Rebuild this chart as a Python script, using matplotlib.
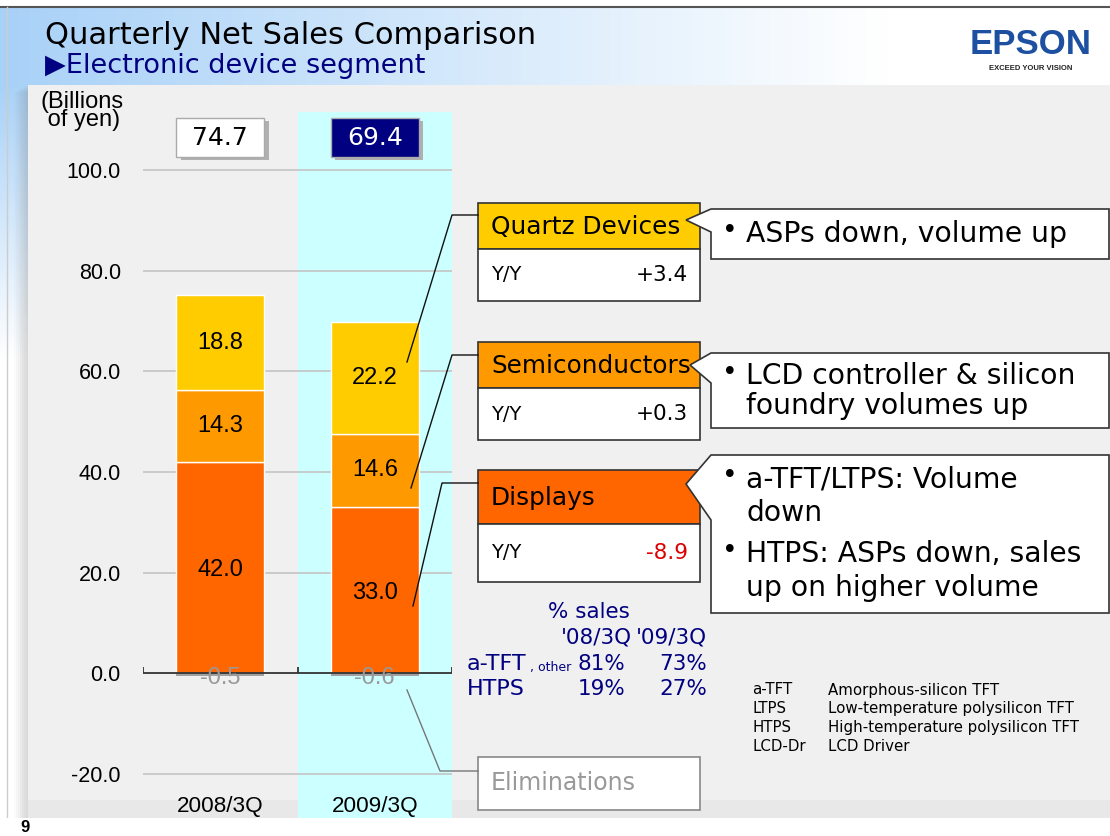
import numpy as np
import matplotlib
matplotlib.use("Agg")
from matplotlib import pyplot as plt
from matplotlib.patches import Rectangle, Polygon

# Data
quarters = ["2008/3Q", "2009/3Q"]
displays = [42.0, 33.0]
semiconductors = [14.3, 14.6]
quartz = [18.8, 22.2]
eliminations = [-0.5, -0.6]
totals = [74.7, 69.4]
yoy_quartz = "+3.4"
yoy_semis = "+0.3"
yoy_displays = "-8.9"
share_rows = ["a-TFT", "HTPS"]
share_0803 = ["81%", "19%"]
share_0903 = ["73%", "27%"]
abbrev = ["a-TFT", "LTPS", "HTPS", "LCD-Dr"]
abbrev_full = ["Amorphous-silicon TFT", "Low-temperature polysilicon TFT",
               "High-temperature polysilicon TFT", "LCD Driver"]

C_DISP = "#ff6600"
C_SEMI = "#ff9900"
C_QUARTZ = "#ffcc00"
NAVY = "#000080"
ARIAL = "Liberation Sans"
GOTH = "DejaVu Sans"

W, H = 1110, 836
fig = plt.figure(figsize=(W / 100, H / 100), dpi=100)

# Background layer in pixel coordinates
bg = fig.add_axes([0, 0, 1, 1], zorder=0)
bg.set_xlim(0, W)
bg.set_ylim(H, 0)
bg.axis("off")

gx, gy = np.meshgrid(np.linspace(0, 1, 300), np.linspace(0, 1, 200))
t = np.clip(gx * 1.25 + np.clip(gy - 0.1, 0, None) * 3.0, 0, 1)
blue = np.array([0.66, 0.82, 0.97])
img = blue[None, None, :] * (1 - t[..., None]) + np.ones(3)[None, None, :] * t[..., None]
bg.imshow(img, extent=[0, W, H, 0], aspect="auto", zorder=0)
bg.add_patch(Rectangle((0, 0), W, 7, fc="white", ec="none", zorder=1))
bg.plot([0, W], [7, 7], color="#555555", lw=1.5, zorder=2)
bg.plot([7, 7], [7, H], color="#cccccc", lw=1, zorder=2)
# content panel with soft left shadow
for i, a in enumerate([0.05, 0.05, 0.05, 0.05, 0.05, 0.04, 0.04, 0.03]):
    bg.add_patch(Rectangle((28 - i * 2, 85 + i), 16, 733, fc="#808080", alpha=a, ec="none", zorder=2))
bg.add_patch(Rectangle((28, 85), W - 28, 733, fc="#f0f0f0", ec="none", zorder=3))
bg.add_patch(Rectangle((28, 800), W - 28, 18, fc="#e8e8e8", ec="none", zorder=3))
bg.add_patch(Rectangle((0, 818), W, 18, fc="white", ec="none", zorder=3))

bg.text(45, 36, "Quarterly Net Sales Comparison", fontsize=22, family=GOTH,
        va="center", ha="left", zorder=4)
bg.text(45, 66, "\u25b6Electronic device segment", fontsize=19.5, family=GOTH,
        color=NAVY, va="center", ha="left", zorder=4)
bg.text(1031, 45, "EPSON", fontsize=25, family=ARIAL, weight="bold",
        color="#1e50a2", ha="center", va="center", zorder=4)
bg.text(1031, 68, "EXCEED YOUR VISION", fontsize=5.5, family=ARIAL, weight="bold",
        color="#222222", ha="center", va="center", zorder=4)
bg.text(20, 827, "9", fontsize=12, family=ARIAL, weight="bold", va="center", zorder=4)
bg.text(41, 111, "(Billions\n of yen)", fontsize=17, family=ARIAL, va="center",
        ha="left", linespacing=0.8, zorder=4)

# Chart axes: pixel x 143..452, y 112..818
ax = fig.add_axes([143 / W, (H - 818) / H, 309 / W, 706 / H], zorder=1)
ax.patch.set_alpha(0)
px_per = 604 / 120.0
y0 = 673.3
ax.set_ylim((y0 - 818) / px_per, (y0 - 112) / px_per)
ax.set_xlim(-0.5, 1.5)
for s in ax.spines.values():
    s.set_visible(False)

ax.axvspan(0.5, 1.5, color="#ccffff", zorder=0, lw=0)
ticks = [-20, 0, 20, 40, 60, 80, 100]
ax.hlines([v for v in ticks if v != 0], -0.5, 1.5, color="#c4c4c4", lw=1.2, zorder=1)
ax.set_yticks(ticks)
ax.set_yticklabels([f"{v:.1f}" for v in ticks], fontsize=15.5, family=ARIAL)
ax.tick_params(axis="y", length=0, pad=16)
ax.set_xticks([])

x = np.arange(len(quarters))
bw = 0.57
bottom2 = np.array(displays) + np.array(semiconductors)
ax.bar(x, displays, bw, color=C_DISP, edgecolor="white", lw=1, zorder=2)
ax.bar(x, semiconductors, bw, bottom=displays, color=C_SEMI, edgecolor="white", lw=1, zorder=2)
ax.bar(x, quartz, bw, bottom=bottom2, color=C_QUARTZ, edgecolor="white", lw=1, zorder=2)
ax.bar(x, eliminations, bw, color="#a0a0a0", lw=0, zorder=2)

ax.axhline(0, color="#333333", lw=1.3, zorder=3)
ax.vlines([-0.5, 0.5, 1.5], 0, 1.3, color="#333333", lw=1.3, zorder=3)

LBL = 17
for i in range(len(quarters)):
    ax.text(x[i], displays[i] / 2 - 0.5, f"{displays[i]:.1f}", ha="center", va="center",
            fontsize=LBL, family=ARIAL, zorder=4)
    ax.text(x[i], displays[i] + semiconductors[i] / 2, f"{semiconductors[i]:.1f}", ha="center",
            va="center", fontsize=LBL, family=ARIAL, zorder=4)
    ax.text(x[i], bottom2[i] + quartz[i] / 2, f"{quartz[i]:.1f}", ha="center", va="center",
            fontsize=LBL, family=ARIAL, zorder=4)
    ax.text(x[i], -1.0, f"{eliminations[i]:.1f}", ha="center", va="center",
            fontsize=LBL, family=ARIAL, color="#999999", zorder=4)
    ax.text(x[i], -26.4, quarters[i], ha="center", va="center", fontsize=16.2,
            family=ARIAL, zorder=4)
    # total boxes
    fc = "white" if i == 0 else NAVY
    tc = "black" if i == 0 else "white"
    ax.add_patch(Rectangle((x[i] - bw / 2 + 0.03, 102.0), bw, 7.7, fc="#b0b0b0", ec="none", zorder=3))
    ax.add_patch(Rectangle((x[i] - bw / 2, 102.6), bw, 7.7, fc=fc, ec="#aaaaaa", lw=1, zorder=4))
    ax.text(x[i], 106.4, f"{totals[i]:.1f}", ha="center", va="center", fontsize=18,
            family=GOTH, color=tc, zorder=5)

# Foreground layer for callouts
fg = fig.add_axes([0, 0, 1, 1], zorder=3)
fg.set_xlim(0, W)
fg.set_ylim(H, 0)
fg.axis("off")
fg.patch.set_alpha(0)

# leader lines
fg.plot([407, 452, 478], [362, 215, 215], color="#111111", lw=1)
fg.plot([411, 452, 478], [488, 355, 355], color="#111111", lw=1)
fg.plot([413, 442, 478], [606, 483, 483], color="#111111", lw=1)
fg.plot([407, 440, 478], [690, 771, 771], color="#777777", lw=1)

segments = [
    ("Quartz Devices", C_QUARTZ, 203, 46, 52, yoy_quartz, "black"),
    ("Semiconductors", C_SEMI, 342, 46, 52, yoy_semis, "black"),
    ("Displays", C_DISP, 470, 54, 58, yoy_displays, "#dd0000"),
]
for name, col, top, hh, rh, val, vc in segments:
    fg.add_patch(Rectangle((478, top), 222, hh, fc=col, ec="#333333", lw=1.2))
    fg.add_patch(Rectangle((478, top + hh), 222, rh, fc="white", ec="#333333", lw=1.2))
    fg.text(491, top + hh / 2 + 1, name, fontsize=17.8, family=GOTH, va="center", ha="left")
    fg.text(491, top + hh + rh / 2, "Y/Y", fontsize=14, family=GOTH, va="center", ha="left")
    fg.text(688, top + hh + rh / 2, val, fontsize=15.5, family=GOTH, va="center", ha="right", color=vc)

fg.add_patch(Rectangle((478, 757), 222, 53, fc="white", ec="#888888", lw=1.2))
fg.text(491, 783, "Eliminations", fontsize=17, family=GOTH, va="center", color="#999999")

# speech bubbles
bubbles = [
    (209, 259, [(686, 220), (711, 232)], [(234, "\u2022", "ASPs down, volume up")]),
    (353, 428, [(690, 365), (711, 383)],
     [(376, "\u2022", "LCD controller & silicon"), (406, "", "foundry volumes up")]),
    (455, 613, [(686, 484), (711, 520)],
     [(479, "\u2022", "a-TFT/LTPS: Volume"), (513, "", "down"),
      (554, "\u2022", "HTPS: ASPs down, sales"), (588, "", "up on higher volume")]),
]
for top, bot, tail, lines in bubbles:
    pts = [(711, top), (1109, top), (1109, bot), (711, bot), tail[1], tail[0]]
    fg.add_patch(Polygon(pts, closed=True, fc="white", ec="#333333", lw=1.2))
    for yy, b, txt in lines:
        if b:
            fg.text(722, yy - 3, b, fontsize=19, family=GOTH, va="center", ha="left")
        fg.text(746, yy, txt, fontsize=20.3, family=GOTH, va="center", ha="left")

# % sales table
TS = 15.5
fg.text(589, 612, "% sales", fontsize=TS, family=GOTH, color=NAVY, ha="center", va="center")
fg.text(632, 638, "'08/3Q", fontsize=TS, family=GOTH, color=NAVY, ha="right", va="center")
fg.text(707, 638, "'09/3Q", fontsize=TS, family=GOTH, color=NAVY, ha="right", va="center")
row_y = [664, 689]
for i, r in enumerate(share_rows):
    fg.text(467, row_y[i], r, fontsize=16, family=GOTH, color=NAVY, ha="left", va="center")
    fg.text(625, row_y[i], share_0803[i], fontsize=TS, family=GOTH, color=NAVY, ha="right", va="center")
    fg.text(707, row_y[i], share_0903[i], fontsize=TS, family=GOTH, color=NAVY, ha="right", va="center")
fg.text(530, 668, ", other", fontsize=9, family=GOTH, color=NAVY, ha="left", va="center")

# abbreviations
for i, (a, f) in enumerate(zip(abbrev, abbrev_full)):
    yy = 690 + i * 18.7
    fg.text(752, yy, a, fontsize=10.8, family=GOTH, va="center", ha="left")
    fg.text(828, yy, f, fontsize=10.8, family=GOTH, va="center", ha="left")

fig.savefig("out.png", dpi=100)
